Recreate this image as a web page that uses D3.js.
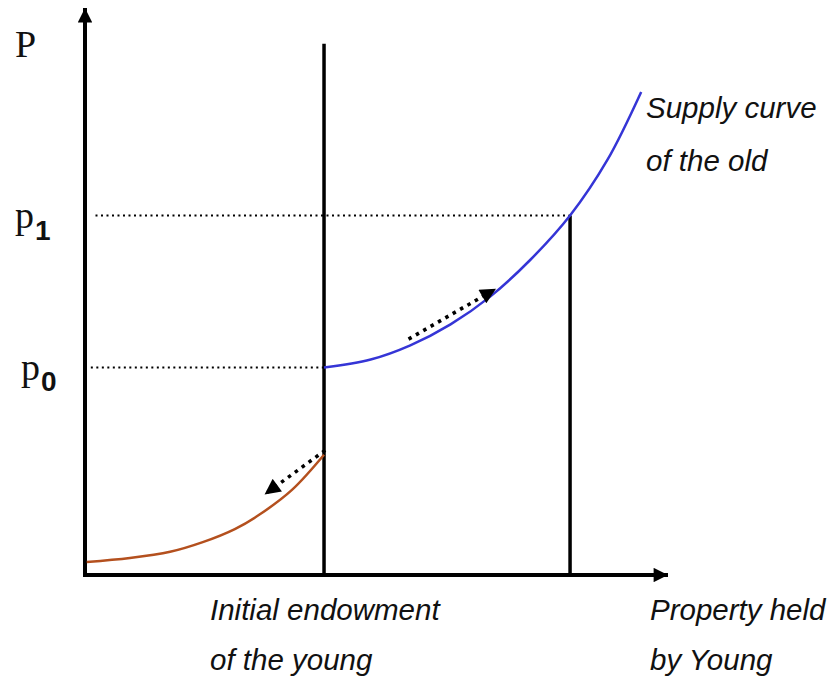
<!DOCTYPE html>
<html>
<head>
<meta charset="utf-8">
<script src="https://cdn.jsdelivr.net/npm/d3@7"></script>
<style>
  body { margin: 0; background: #fff; }
  .lbl { font-family: "Liberation Sans", Arial, sans-serif; font-style: italic; font-size: 29.5px; fill: #111; }
  .plbl { font-family: "Liberation Serif", "Times New Roman", serif; font-size: 38px; fill: #111; }
  .sub { font-family: "Liberation Sans", Arial, sans-serif; font-weight: bold; font-size: 28px; }
</style>
</head>
<body>
<svg id="chart" width="830" height="681"></svg>
<script>
// quantity / price in abstract units
const endowment = 4.1
const x1 = 8.32
const p0 = 3.66
const p1 = 6.34
const endowTop = 9.37

const supplyOld = [
  [4.1, 3.66], [4.9, 3.8], [5.58, 4.05], [6.27, 4.42], [6.95, 4.91],
  [7.64, 5.56], [8.32, 6.34], [8.96, 7.32], [9.54, 8.52]
]
const youngCurve = [
  [0.03, 0.23], [0.77, 0.3], [1.46, 0.41], [2.02, 0.58],
  [2.57, 0.81], [3.0, 1.07], [3.55, 1.5], [4.1, 2.12]
]
// dotted movement arrows [from, to]
const arrowYoung = [[4.12, 2.2], [3.08, 1.42]]
const arrowOld = [[5.55, 4.16], [7.05, 5.05]]

const xLabel = ['Property held', 'by Young']
const endowLabel = ['Initial endowment', 'of the young']
const supplyLabel = ['Supply curve', 'of the old']

const svg = d3.select('#chart')
const x = d3.scaleLinear().domain([0, 10]).range([85, 668])
const y = d3.scaleLinear().domain([0, 10]).range([575, 8])

const defs = svg.append('defs')
defs.append('marker')
  .attr('id', 'axisHead')
  .attr('viewBox', '0 0 10 10')
  .attr('refX', 10).attr('refY', 5)
  .attr('markerWidth', 4.5).attr('markerHeight', 3.6)
  .attr('markerUnits', 'strokeWidth')
  .attr('orient', 'auto')
  .append('path').attr('d', 'M0,0 L10,5 L0,10 Z').attr('fill', '#000')
defs.append('marker')
  .attr('id', 'dotHead')
  .attr('viewBox', '0 0 10 10')
  .attr('refX', 10).attr('refY', 5)
  .attr('markerWidth', 5).attr('markerHeight', 4.5)
  .attr('markerUnits', 'strokeWidth')
  .attr('orient', 'auto')
  .append('path').attr('d', 'M0,0 L10,5 L0,10 Z').attr('fill', '#000')

// axes
svg.append('line')
  .attr('x1', x(0)).attr('y1', y(0) + 2)
  .attr('x2', x(0)).attr('y2', y(10))
  .attr('stroke', '#000').attr('stroke-width', 4)
  .attr('marker-end', 'url(#axisHead)')
svg.append('line')
  .attr('x1', x(0) - 2).attr('y1', y(0))
  .attr('x2', x(10)).attr('y2', y(0))
  .attr('stroke', '#000').attr('stroke-width', 4)
  .attr('marker-end', 'url(#axisHead)')

// vertical lines
svg.append('line')
  .attr('x1', x(endowment)).attr('y1', y(0))
  .attr('x2', x(endowment)).attr('y2', y(endowTop))
  .attr('stroke', '#000').attr('stroke-width', 3.5)
svg.append('line')
  .attr('x1', x(x1)).attr('y1', y(0))
  .attr('x2', x(x1)).attr('y2', y(p1))
  .attr('stroke', '#000').attr('stroke-width', 3.5)

// dotted price guides
svg.append('line')
  .attr('x1', x(0.18)).attr('y1', y(p1))
  .attr('x2', x(x1)).attr('y2', y(p1))
  .attr('stroke', '#000').attr('stroke-width', 2)
  .attr('stroke-dasharray', '2 3.5')
svg.append('line')
  .attr('x1', x(0.1)).attr('y1', y(p0))
  .attr('x2', x(endowment)).attr('y2', y(p0))
  .attr('stroke', '#000').attr('stroke-width', 2)
  .attr('stroke-dasharray', '2 3.5')

const line = d3.line()
  .x(d => x(d[0]))
  .y(d => y(d[1]))
  .curve(d3.curveCatmullRom.alpha(0.5))

svg.append('path')
  .datum(supplyOld)
  .attr('d', line)
  .attr('fill', 'none')
  .attr('stroke', '#3535d6')
  .attr('stroke-width', 2.5)
svg.append('path')
  .datum(youngCurve)
  .attr('d', line)
  .attr('fill', 'none')
  .attr('stroke', '#b4501e')
  .attr('stroke-width', 2.5)

// dotted arrows
const straight = d3.line().x(d => x(d[0])).y(d => y(d[1]))
;[arrowYoung, arrowOld].forEach(a => {
  svg.append('path')
    .attr('d', straight(a))
    .attr('fill', 'none')
    .attr('stroke', '#000')
    .attr('stroke-width', 3.5)
    .attr('stroke-dasharray', '3.5 5')
    .attr('marker-end', 'url(#dotHead)')
})

// labels
svg.append('text').attr('class', 'plbl').attr('x', 15).attr('y', 57).text('P')
const t1 = svg.append('text').attr('class', 'plbl').attr('x', 15).attr('y', y(p1) + 12)
t1.append('tspan').text('p')
t1.append('tspan').attr('class', 'sub').attr('dx', 1).attr('dy', 12).text('1')
const t0 = svg.append('text').attr('class', 'plbl').attr('x', 21).attr('y', y(p0) + 13)
t0.append('tspan').text('p')
t0.append('tspan').attr('class', 'sub').attr('dx', 1).attr('dy', 11).text('0')

function twoLines (lines, px, py, gap) {
  const t = svg.append('text').attr('class', 'lbl')
  lines.forEach((s, i) => {
    t.append('tspan').attr('x', px).attr('y', py + i * gap).text(s)
  })
}
twoLines(supplyLabel, 646, 118, 53)
twoLines(endowLabel, 210, 620, 50)
twoLines(xLabel, 650, 620, 50)
</script>
</body>
</html>
